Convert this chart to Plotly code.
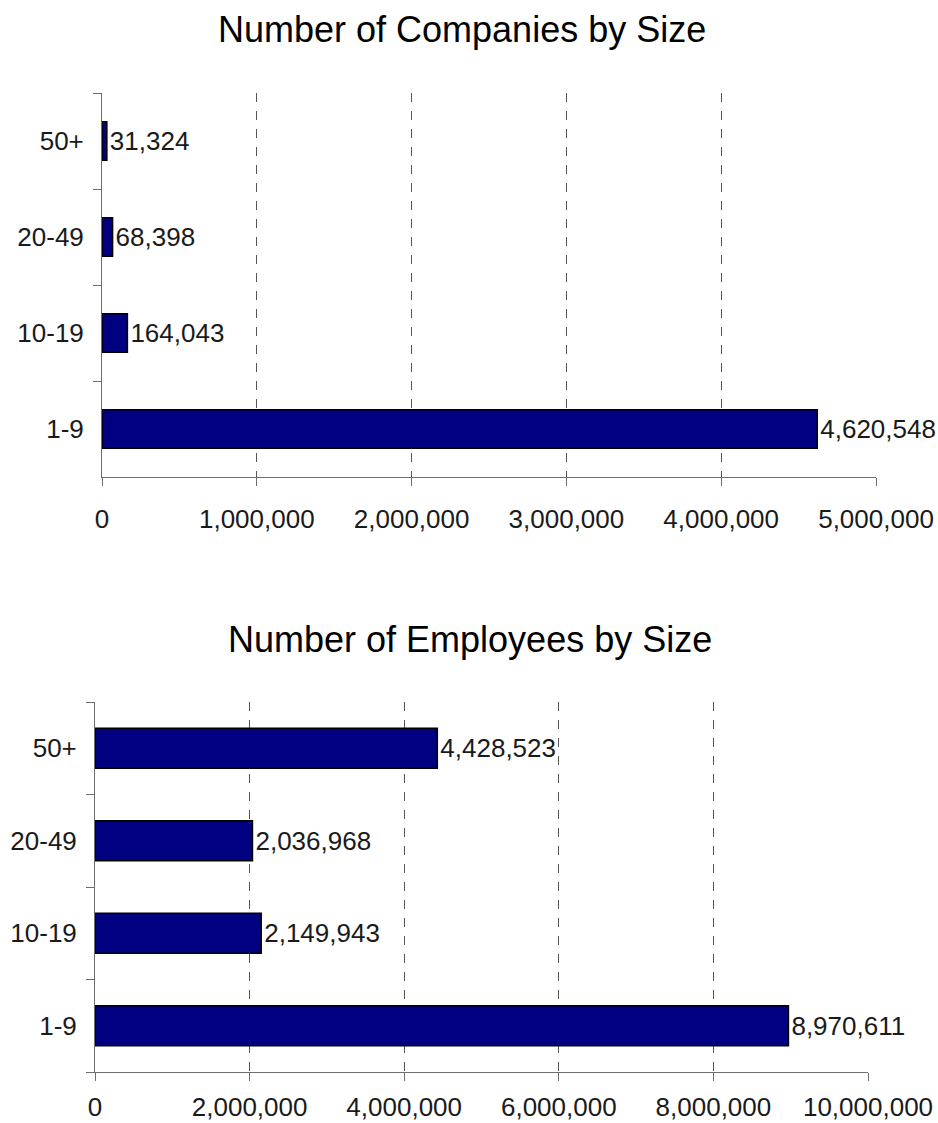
import plotly.graph_objects as go

# Size bands (bottom to top) and counts for each chart
size_bands = ["1-9", "10-19", "20-49", "50+"]
companies = [4620548, 164043, 68398, 31324]
employees = [8970611, 2149943, 2036968, 4428523]

company_ticks = [0, 1000000, 2000000, 3000000, 4000000, 5000000]
employee_ticks = [0, 2000000, 4000000, 6000000, 8000000, 10000000]

FONT = "Liberation Sans, Arial, Helvetica, sans-serif"
BAR_FILL = "#000080"
TEXT_COLOR = "#1a1a1a"
AXIS_COLOR = "#6e6e6e"
LABEL_SIZE = 26


def fmt(v):
    return f"{v:,}"


fig = go.Figure()

fig.add_trace(go.Bar(
    x=companies, y=size_bands, orientation="h",
    xaxis="x", yaxis="y", width=0.4,
    marker=dict(color=BAR_FILL, line=dict(color="black", width=1.5)),
    text=[fmt(v) for v in companies], textposition="outside",
    textfont=dict(family=FONT, size=LABEL_SIZE, color=TEXT_COLOR),
    cliponaxis=False, showlegend=False, hoverinfo="skip",
))

fig.add_trace(go.Bar(
    x=employees, y=size_bands, orientation="h",
    xaxis="x2", yaxis="y2", width=0.43,
    marker=dict(color=BAR_FILL, line=dict(color="black", width=1.5)),
    text=[fmt(v) for v in employees], textposition="outside",
    textfont=dict(family=FONT, size=LABEL_SIZE, color=TEXT_COLOR),
    cliponaxis=False, showlegend=False, hoverinfo="skip",
))


def xaxis_cfg(domain, anchor, rng, ticks, standoff):
    return dict(
        domain=domain, anchor=anchor, range=rng, automargin=False,
        tickvals=ticks, ticktext=[fmt(t) for t in ticks],
        showline=True, linecolor=AXIS_COLOR, linewidth=1,
        ticks="outside", ticklen=8, tickcolor=AXIS_COLOR,
        ticklabelstandoff=standoff,
        showgrid=True, gridcolor="#555555", griddash="dash", gridwidth=1,
        zeroline=False,
        tickfont=dict(family=FONT, size=LABEL_SIZE, color=TEXT_COLOR),
        fixedrange=True,
    )


def yaxis_cfg(domain, anchor):
    return dict(
        domain=domain, anchor=anchor, automargin=False,
        type="category", categoryorder="array", categoryarray=size_bands,
        range=[-0.5, 3.5],
        showline=True, linecolor=AXIS_COLOR, linewidth=1,
        ticks="outside", tickson="boundaries", ticklen=8, tickcolor=AXIS_COLOR,
        ticklabelstandoff=12,
        showgrid=False, zeroline=False,
        tickfont=dict(family=FONT, size=LABEL_SIZE, color=TEXT_COLOR),
        fixedrange=True,
    )


W, H = 938, 1123

fig.update_layout(
    width=W, height=H,
    margin=dict(l=0, r=0, t=0, b=0),
    paper_bgcolor="white", plot_bgcolor="white",
    bargap=0.6,
    xaxis=xaxis_cfg([102 / W, 876 / W], "y", [0, 5000000], company_ticks, 11),
    yaxis=yaxis_cfg([1 - 477 / H, 1 - 93 / H], "x"),
    xaxis2=xaxis_cfg([95 / W, 868 / W], "y2", [0, 10000000], employee_ticks, 4),
    yaxis2=yaxis_cfg([1 - 1072 / H, 1 - 702 / H], "x2"),
    annotations=[
        dict(text="Number of Companies by Size", x=462 / W, y=1 - 29 / H,
             xref="paper", yref="paper", showarrow=False,
             xanchor="center", yanchor="middle",
             font=dict(family=FONT, size=36, color="black")),
        dict(text="Number of Employees by Size", x=470 / W, y=1 - 639 / H,
             xref="paper", yref="paper", showarrow=False,
             xanchor="center", yanchor="middle",
             font=dict(family=FONT, size=36, color="black")),
    ],
)

fig.write_html("out.html")
